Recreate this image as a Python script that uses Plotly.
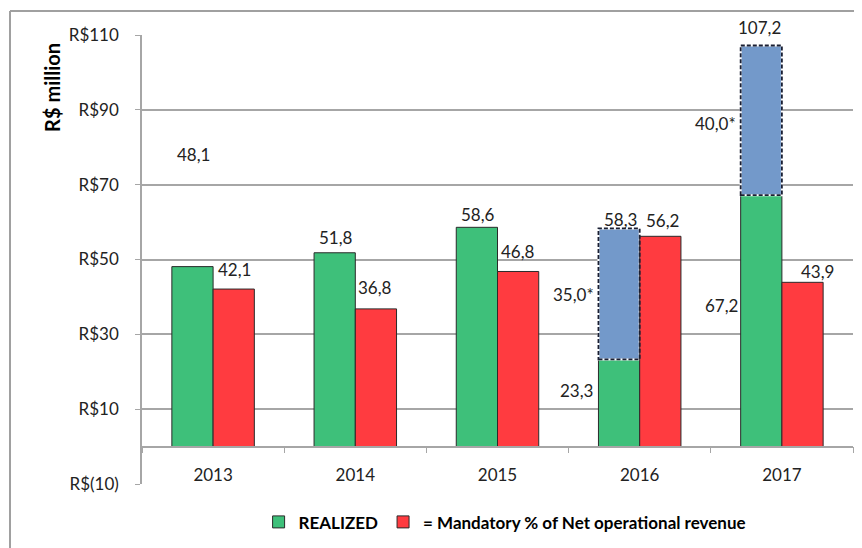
import plotly.graph_objects as go

# data (R$ million)
years = ["2013", "2014", "2015", "2016", "2017"]
realized = [48.1, 51.8, 58.6, 23.3, 67.2]
mandatory = [42.1, 36.8, 46.8, 56.2, 43.9]
extra = [None, None, None, 35.0, 40.0]          # dashed blue block stacked on REALIZED
y_ticks = [-10, 10, 30, 50, 70, 90, 110]
y_tick_text = ["R$(10)", "R$10", "R$30", "R$50", "R$70", "R$90", "R$110"]

GREEN = "#3ec07a"
RED = "#ff3b40"
BLUE = "#7399ca"
GRID = "#a6a6a6"
FONT = "Lato"
BARGAP = 0.42

fig = go.Figure()

fig.add_trace(go.Bar(x=years, y=realized, name="<b>REALIZED</b>", offsetgroup="a",
                     marker=dict(color=GREEN, line=dict(color="#2a2a2a", width=1))))
fig.add_trace(go.Bar(x=years, y=extra, base=realized, offsetgroup="a", showlegend=False,
                     marker=dict(color=BLUE, line=dict(color="white", width=2))))
fig.add_trace(go.Bar(x=years, y=mandatory, name="<b>= Mandatory % of Net operational revenue</b>",
                     offsetgroup="b",
                     marker=dict(color=RED, line=dict(color="#2a2a2a", width=1))))

# dashed outline around the blue blocks (x in category index units)
bar_w = (1 - BARGAP) / 2
for i, (r, e) in enumerate(zip(realized, extra)):
    if e is None:
        continue
    fig.add_shape(type="rect", xref="x", yref="y", x0=i - bar_w, x1=i, y0=r, y1=r + e,
                  line=dict(color="#1a1f33", width=1.8, dash="4px,2px"))

# value labels: (year index, text, y value, xshift px, yshift px)
labels = [
    (0, "48,1", realized[0], -20, 112),
    (0, "42,1", mandatory[0], 21, 20),
    (1, "51,8", realized[1], -19, 15),
    (1, "36,8", mandatory[1], 20, 21),
    (2, "58,6", realized[2], -20, 13),
    (2, "46,8", mandatory[2], 20, 20),
    (3, "58,3", realized[3] + extra[3], -19, 9),
    (3, "56,2", mandatory[3], 23, 16),
    (3, "35,0*", realized[3] + extra[3] / 2, -66, -1),
    (3, "23,3", realized[3] / 2, -63, 12),
    (4, "107,2", realized[4] + extra[4], -22, 18),
    (4, "40,0*", realized[4] + extra[4] / 2, -66, -3),
    (4, "67,2", realized[4] / 2, -60, 15),
    (4, "43,9", mandatory[4], 36, 11),
]
for i, txt, yv, dx, dy in labels:
    fig.add_annotation(x=i, y=yv, text=txt, showarrow=False, xshift=dx, yshift=dy,
                       font=dict(family=FONT, size=17, color="#222222"))

# y axis title, placed at the top like the original
fig.add_annotation(xref="paper", yref="paper", x=(52 - 142) / 711, y=(485 - 88) / 450,
                   xanchor="center", yanchor="middle",
                   text="<b>R$ million</b>", textangle=-90, showarrow=False,
                   font=dict(family=FONT, size=20, color="black"))

# outer frame (left and top edges only)
fig.add_shape(type="line", xref="paper", yref="paper", x0=(10 - 142) / 711, x1=1.02,
              y0=(485 - 11) / 450, y1=(485 - 11) / 450, line=dict(color="#a0a0a0", width=2))
fig.add_shape(type="line", xref="paper", yref="paper", x0=(10 - 142) / 711, x1=(10 - 142) / 711,
              y0=(485 - 11) / 450, y1=-0.15, line=dict(color="#a0a0a0", width=2))

# the page body adds an 8px margin, so the figure is 8px smaller each way
fig.update_layout(
    width=854, height=540,
    margin=dict(l=134, r=9, t=27, b=63),
    paper_bgcolor="white", plot_bgcolor="white",
    barmode="group", bargap=BARGAP, bargroupgap=0,
    font=dict(family=FONT, size=17, color="#222222"),
    legend=dict(orientation="h", x=0.164, y=-0.083, xanchor="left", yanchor="middle",
                font=dict(family=FONT, size=17, color="black")),
)

fig.update_yaxes(range=[-10, 110], tickvals=y_ticks, ticktext=y_tick_text,
                 showgrid=True, gridcolor=GRID, gridwidth=1.5, zeroline=False,
                 showline=True, linecolor=GRID, linewidth=1.5,
                 ticks="outside", ticklen=5, tickcolor=GRID, ticklabelstandoff=13)
fig.update_xaxes(type="category", range=[-0.5, len(years) - 0.5], anchor="free",
                 position=10 / 120, showgrid=False,
                 zeroline=False, showline=True, linecolor=GRID, linewidth=1.5,
                 ticks="outside", tickson="boundaries", ticklen=6, tickcolor=GRID,
                 ticklabelstandoff=13)

fig.write_html("out.html")
